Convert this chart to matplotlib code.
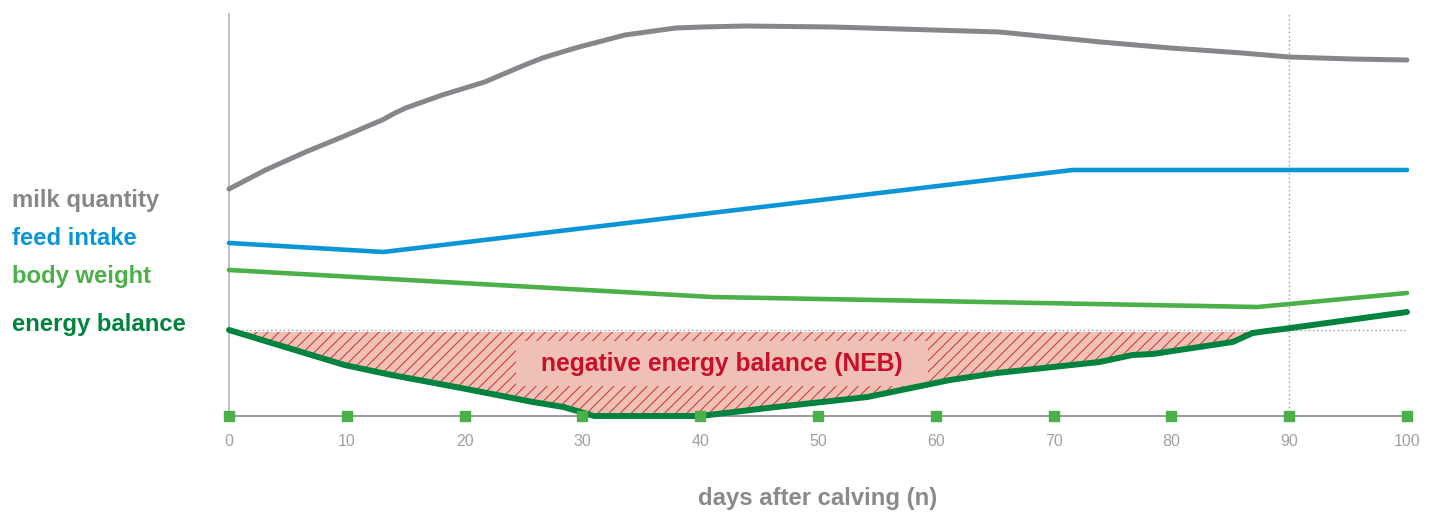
import matplotlib
matplotlib.use("Agg")
import matplotlib.pyplot as plt
import numpy as np

plt.rcParams['font.family'] = ['Liberation Sans', 'DejaVu Sans']
plt.rcParams['hatch.linewidth'] = 0.7

# ---- data (days after calving, relative level) ----
milk_days = [0, 3.1, 6.5, 9.6, 13.0, 14.1, 15.0, 18.1, 21.7, 25.1, 26.6, 29.4, 33.6, 37.9, 40.2, 43.8,
             51.3, 59.8, 65.4, 69.7, 74.0, 79.9, 82.4, 86.0, 90, 95.3, 100]
milk_vals = [227, 246, 264, 279, 296, 303, 308, 321, 334, 351, 358, 368, 381, 388, 389, 390,
             389, 386, 384, 379, 374, 368, 366, 363, 359, 357, 356]

feed_days = [0, 13.1, 71.6, 100]
feed_vals = [173, 164, 246, 246]

weight_days = [0, 41, 87.3, 100]
weight_vals = [146, 119, 109, 123]

energy_days = [0, 9.8, 13.8, 19.7, 25.8, 28.4, 31, 40, 45.7, 54.2, 61.2, 65.2, 73.9, 76.7, 78.4, 85.2, 86.9, 88.1, 89.5, 100]
energy_vals = [86, 51, 41, 28, 14, 9, 0, 0, 8, 19, 36, 43, 54, 61, 62, 74, 83, 85, 87, 104]

zero_level = 86
x_ticks = list(range(0, 101, 10))
marker_day = 90

series_labels = ["milk quantity", "feed intake", "body weight", "energy balance"]
neb_label = "negative energy balance (NEB)"
x_label = "days after calving (n)"

# ---- colours ----
c_milk = "#87878b"
c_feed = "#0a96d6"
c_weight = "#4bb04a"
c_energy = "#00833e"
c_fill = "#efc1b4"
c_hatch = "#d42a3c"
c_text_red = "#c8102e"
c_axis = "#9a9a9a"

W, H = 1435, 515
fig = plt.figure(figsize=(W / 100, H / 100), dpi=100)
ax = fig.add_axes([229 / W, 99 / H, (1407 - 229) / W, (416 - 14) / H])
ax.set_xlim(0, 100)
ax.set_ylim(0, 402)
for s in ax.spines.values():
    s.set_visible(False)
ax.set_yticks([])
ax.set_xticks(x_ticks)
ax.set_xticklabels([str(t) for t in x_ticks], color="#a0a0a0", fontsize=11.5)
ax.tick_params(axis='x', length=0, pad=13)

# axes lines
ax.plot([0, 0], [0, 402], color="#b0b0b0", lw=1.1, zorder=1, clip_on=False)
ax.plot([0, 100], [0, 0], color=c_axis, lw=1.4, zorder=2, clip_on=False)

# dotted reference lines
ax.plot([0, 100], [zero_level, zero_level], color="#999999", lw=1.0, ls=(0, (1, 2)), zorder=1)
ax.plot([marker_day, marker_day], [0, 404], color="#999999", lw=1.0, ls=(0, (1, 2)), zorder=1, clip_on=False)

# NEB fill
ed = np.array(energy_days, dtype=float)
ev = np.array(energy_vals, dtype=float)
xf = np.linspace(0, 100, 2001)
yf = np.interp(xf, ed, ev)
top = zero_level - 2
mask = yf < top
ax.fill_between(xf, yf, top, where=mask, facecolor=c_fill, edgecolor=c_hatch,
                hatch='///', linewidth=0, zorder=2)

# label box
ax.add_patch(plt.Rectangle((24.4, 30), 59.3 - 24.4, 75 - 30, facecolor=c_fill,
                           edgecolor='none', zorder=3))
ax.text(41.8, 52, neb_label, color=c_text_red, fontsize=17.7, fontweight='bold',
        ha='center', va='center', zorder=4)

# series lines
ax.plot(milk_days, milk_vals, color=c_milk, lw=3.6, solid_capstyle='round', solid_joinstyle='round', zorder=5, clip_on=False)
ax.plot(feed_days, feed_vals, color=c_feed, lw=3.3, solid_capstyle='round', zorder=5, clip_on=False)
ax.plot(weight_days, weight_vals, color=c_weight, lw=3.3, solid_capstyle='round', zorder=5, clip_on=False)
ax.plot(energy_days, energy_vals, color=c_energy, lw=4.3, solid_capstyle='round', solid_joinstyle='round', zorder=5, clip_on=False)

# tick squares
ax.plot(x_ticks, [0] * len(x_ticks), ls='none', marker='s', ms=7.2, color=c_weight,
        zorder=6, clip_on=False)

# left labels
label_cols = [c_milk, c_feed, c_weight, c_energy]
label_y = [200, 238, 276, 324]
for t, c, y in zip(series_labels, label_cols, label_y):
    fig.text(12 / W, 1 - y / H, t, color=c, fontsize=17.2, fontweight='bold',
             ha='left', va='center')

fig.text(818 / W, 1 - 498 / H, x_label, color="#8a8a8a", fontsize=17.2,
         fontweight='bold', ha='center', va='center')

fig.savefig("out.png", dpi=100)
